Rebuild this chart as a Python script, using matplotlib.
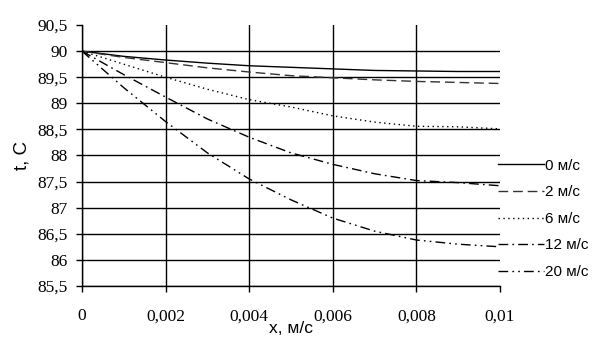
import numpy as np
import matplotlib
matplotlib.use("Agg")
import matplotlib.pyplot as plt

x = [0, 0.001, 0.002, 0.003, 0.004, 0.005, 0.006, 0.007, 0.008, 0.009, 0.01]
t_0 = [90, 89.9, 89.83, 89.77, 89.72, 89.69, 89.66, 89.63, 89.62, 89.61, 89.61]
t_2 = [90, 89.88, 89.78, 89.68, 89.6, 89.53, 89.49, 89.45, 89.42, 89.4, 89.38]
t_6 = [90, 89.75, 89.5, 89.27, 89.07, 88.93, 88.76, 88.64, 88.56, 88.55, 88.51]
t_12 = [90, 89.55, 89.12, 88.7, 88.35, 88.05, 87.83, 87.65, 87.52, 87.48, 87.42]
t_20 = [90, 89.3, 88.65, 88.05, 87.55, 87.15, 86.8, 86.55, 86.38, 86.3, 86.25]
labels = ["0 м/с", "2 м/с", "6 м/с", "12 м/с", "20 м/с"]

x_ticks = [0, 0.002, 0.004, 0.006, 0.008, 0.01]
x_ticklabels = ["0", "0,002", "0,004", "0,006", "0,008", "0,01"]
y_ticks = [85.5, 86, 86.5, 87, 87.5, 88, 88.5, 89, 89.5, 90, 90.5]
y_ticklabels = ["85,5", "86", "86,5", "87", "87,5", "88", "88,5", "89", "89,5", "90", "90,5"]

fig = plt.figure(figsize=(6.05, 3.53), dpi=100)
ax = fig.add_axes([0.1355, 0.19, 0.691, 0.739])

styles = [
    dict(color="black", linestyle="-"),
    dict(color="#333333", linestyle=(0, (7, 3.5))),
    dict(color="black", linestyle=(0, (1, 2.5))),
    dict(color="black", linestyle=(0, (7, 3, 1.2, 3))),
    dict(color="black", linestyle=(0, (7, 3, 1.2, 3, 1.2, 3))),
]
for ys, lab, st in zip([t_0, t_2, t_6, t_12, t_20], labels, styles):
    ax.plot(x, ys, linewidth=1.0, label=lab, **st)

ax.set_xlim(0, 0.01)
ax.set_ylim(85.5, 90.5)
ax.set_xticks(x_ticks)
ax.set_xticklabels(x_ticklabels, family="Liberation Serif", fontsize=12.5)
ax.set_yticks(y_ticks)
ax.set_yticklabels(y_ticklabels, family="Liberation Serif", fontsize=12.5)
ax.tick_params(direction="out", length=4, width=1, color="black", pad=6)
ax.tick_params(axis="x", pad=12)

ax.grid(True, color="black", linewidth=1)
ax.set_axisbelow(True)
ax.xaxis.get_gridlines()[-1].set_visible(False)
ax.yaxis.get_gridlines()[-1].set_visible(False)
for side in ["top", "right"]:
    ax.spines[side].set_visible(False)
for side in ["left", "bottom"]:
    ax.spines[side].set_linewidth(1)

ax.set_xlabel("x, м/с", family="Liberation Sans", fontsize=12.5, labelpad=-2)
ax.set_ylabel("t, C", family="Liberation Sans", fontsize=13.5, labelpad=5)

fig.legend(loc="center left", bbox_to_anchor=(0.8, 0.38), frameon=False,
           prop={"family": "Liberation Sans", "size": 11}, handlelength=3.0,
           handletextpad=0.1, labelspacing=0.82)

fig.savefig("out.png", dpi=100)
